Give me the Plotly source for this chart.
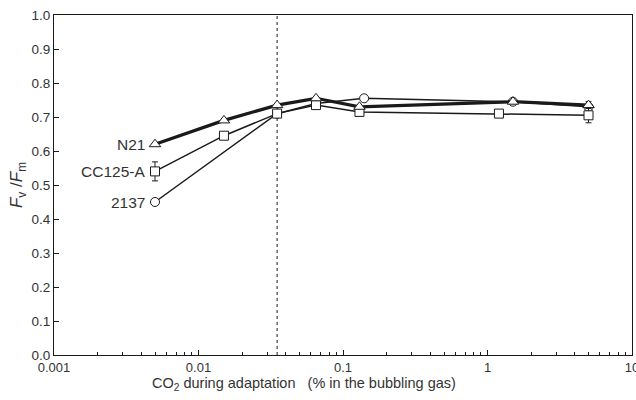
import math
import plotly.graph_objects as go

# Data
x_n21 = [0.005, 0.015, 0.035, 0.065, 0.13, 1.5, 5.0]
y_n21 = [0.62, 0.69, 0.735, 0.755, 0.73, 0.745, 0.735]
e_n21 = [0.004, 0.0, 0.0, 0.0, 0.0, 0.0, 0.01]

x_cc = [0.005, 0.015, 0.035, 0.065, 0.13, 1.2, 5.0]
y_cc = [0.54, 0.645, 0.71, 0.735, 0.715, 0.71, 0.705]
e_cc = [0.028, 0.0, 0.0, 0.0, 0.0, 0.0, 0.022]

x_2137 = [0.005, 0.035, 0.065, 0.14, 1.5, 5.0]
y_2137 = [0.45, 0.71, 0.74, 0.755, 0.745, 0.73]

labels = ["N21", "CC125-A", "2137"]
ambient_co2 = 0.035
x_ticks = [0.001, 0.01, 0.1, 1, 10]
x_tick_text = ["0.001", "0.01", "0.1", "1", "10"]
x_minor = [m * d for d in [0.001, 0.01, 0.1, 1] for m in range(2, 10)]
y_ticks = [0.0, 0.1, 0.2, 0.3, 0.4, 0.5, 0.6, 0.7, 0.8, 0.9, 1.0]

INK = "#1a1a1a"
TXT = "#333333"
FONT = "Liberation Sans, Arial, sans-serif"

fig = go.Figure()

# dashed ambient line
fig.add_trace(go.Scatter(
    x=[ambient_co2, ambient_co2], y=[0, 1], mode="lines",
    line=dict(color=INK, width=1, dash="dot"), showlegend=False, hoverinfo="skip"))

err_style = dict(type="data", thickness=1, width=3, color=INK)

fig.add_trace(go.Scatter(
    x=x_2137, y=y_2137, mode="lines+markers", name=labels[2],
    line=dict(color=INK, width=1.5),
    marker=dict(symbol="circle", size=9, color="white", line=dict(color=INK, width=1)),
    showlegend=False))

fig.add_trace(go.Scatter(
    x=x_cc, y=y_cc, mode="lines+markers", name=labels[1],
    line=dict(color=INK, width=1.5),
    error_y=dict(array=e_cc, **err_style),
    marker=dict(symbol="square", size=9, color="white", line=dict(color=INK, width=1)),
    showlegend=False))

fig.add_trace(go.Scatter(
    x=x_n21, y=y_n21, mode="lines+markers", name=labels[0],
    line=dict(color=INK, width=3.2),
    error_y=dict(array=e_n21, **err_style),
    marker=dict(symbol="triangle-up", size=10, color="white", line=dict(color=INK, width=1)),
    showlegend=False))

# series labels at the first point of each series
for lab, xs, ys in [(labels[0], x_n21, y_n21), (labels[1], x_cc, y_cc), (labels[2], x_2137, y_2137)]:
    fig.add_annotation(x=math.log10(xs[0]), y=ys[0], text=lab,
                       showarrow=False, xanchor="right", yanchor="middle", xshift=-8,
                       font=dict(family=FONT, size=15.5, color=TXT))

# x axis title (placed slightly left of centre, as in the reference)
fig.add_annotation(xref="paper", yref="paper", x=0.4325, y=0, yshift=-29,
                   xanchor="center", yanchor="middle", showarrow=False,
                   text="CO<sub>2</sub> during adaptation   (% in the bubbling gas)",
                   font=dict(family=FONT, size=14.5, color=TXT))

fig.update_xaxes(
    type="log", range=[-3, 1], automargin=False,
    tickvals=x_ticks, ticktext=x_tick_text, ticklabeloverflow="allow",
    ticks="inside", ticklen=5, tickcolor=INK, tickwidth=1,
    minor=dict(tickvals=x_minor, ticks="inside", ticklen=3, tickcolor=INK, showgrid=False),
    showline=True, linecolor=INK, linewidth=1, mirror=True,
    showgrid=False, zeroline=False,
    tickfont=dict(family=FONT, size=13, color=TXT),
)
fig.update_yaxes(
    range=[0, 1], tickvals=y_ticks, tickformat=".1f", automargin=False,
    ticks="inside", ticklen=5, tickcolor=INK, tickwidth=1,
    showline=True, linecolor=INK, linewidth=1, mirror=True,
    showgrid=False, zeroline=False,
    tickfont=dict(family=FONT, size=13.5, color=TXT),
    title=dict(text="<i>F</i><sub>v</sub> /<i>F</i><sub>m</sub>",
               font=dict(family=FONT, size=17, color=TXT), standoff=4),
)

fig.update_layout(
    width=636, height=400,
    margin=dict(l=54, r=4, t=15, b=45),
    paper_bgcolor="white", plot_bgcolor="white",
    font=dict(family=FONT, color=TXT),
)

fig.write_html("out.html")
